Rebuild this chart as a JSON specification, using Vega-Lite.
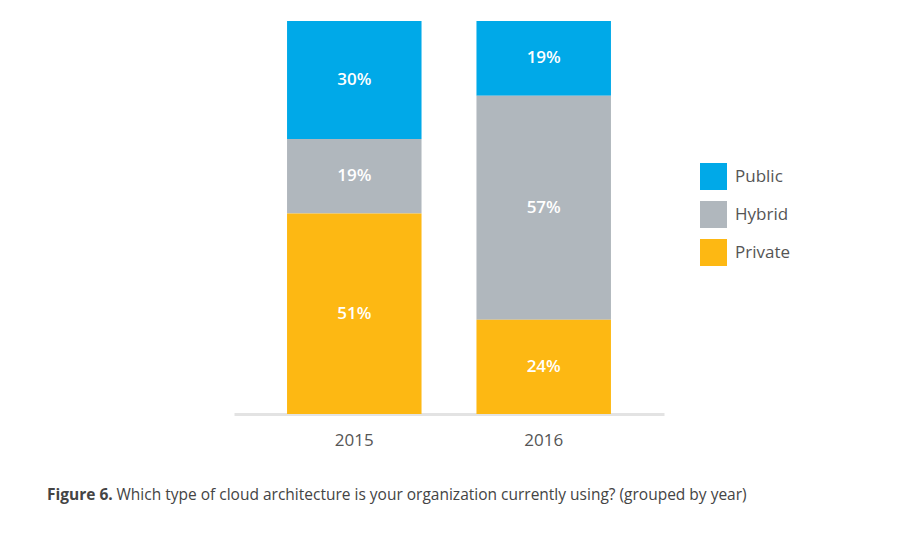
{
  "$schema": "https://vega.github.io/schema/vega-lite/v6.json",
  "autosize": "none",
  "width": 430,
  "height": 393,
  "padding": {"left": 234, "top": 21, "right": 246, "bottom": 139},
  "background": "white",
  "config": {"font": "Open Sans", "view": {"stroke": null}},
  "title": {"text": "Figure 6.", "orient": "bottom", "anchor": "start", "frame": "group", "dx": -187, "offset": 0, "dy": -3, "baseline": "alphabetic", "fontSize": 15.5, "fontWeight": "bold", "color": "#444444", "font": "Open Sans"},
  "data": {"values": [
    {"year": "2015", "type": "Public", "value": 30},
    {"year": "2015", "type": "Hybrid", "value": 19},
    {"year": "2015", "type": "Private", "value": 51},
    {"year": "2016", "type": "Public", "value": 19},
    {"year": "2016", "type": "Hybrid", "value": 57},
    {"year": "2016", "type": "Private", "value": 24}
  ]},
  "transform": [
    {"calculate": "indexof(['Private','Hybrid','Public'], datum.type)", "as": "rank"},
    {"stack": "value", "groupby": ["year"], "sort": [{"field": "rank", "order": "ascending"}], "as": ["v0", "v1"]},
    {"calculate": "(datum.v0 + datum.v1) / 2", "as": "mid"},
    {"calculate": "datum.value + '%'", "as": "label"}
  ],
  "encoding": {
    "x": {"field": "year", "type": "nominal", "scale": {"paddingInner": 0.29, "paddingOuter": 0.28},
      "axis": {"labelAngle": 0, "labelFontSize": 17, "labelColor": "#555555", "labelPadding": 18, "ticks": false,
        "domainColor": "#e3e3e3", "domainWidth": 3,
        "title": "Which type of cloud architecture is your organization currently using? (grouped by year)",
        "titleFontSize": 15.5, "titleFontWeight": "normal", "titleColor": "#444444", "titleAnchor": "start", "titleAlign": "left",
        "titleX": -118, "titleY": 85, "titleBaseline": "alphabetic"}}
  },
  "layer": [
    {
      "mark": {"type": "bar"},
      "encoding": {
        "y": {"field": "v0", "type": "quantitative", "scale": {"domain": [0, 100]}, "axis": null},
        "y2": {"field": "v1"},
        "color": {"field": "type", "type": "nominal",
          "scale": {"domain": ["Public", "Hybrid", "Private"], "range": ["#00a9e8", "#b0b7bd", "#fdb813"]},
          "legend": {"title": null, "orient": "none", "legendX": 466, "legendY": 142, "symbolType": "square", "symbolSize": 729,
            "symbolStrokeWidth": 0, "symbolOpacity": 1, "labelFontSize": 17, "labelColor": "#555555", "labelOffset": 8, "rowPadding": 11}}
      }
    },
    {
      "mark": {"type": "text", "color": "white", "fontSize": 17, "fontWeight": 600, "baseline": "middle"},
      "encoding": {
        "y": {"field": "mid", "type": "quantitative"},
        "text": {"field": "label", "type": "nominal"}
      }
    }
  ]
}
